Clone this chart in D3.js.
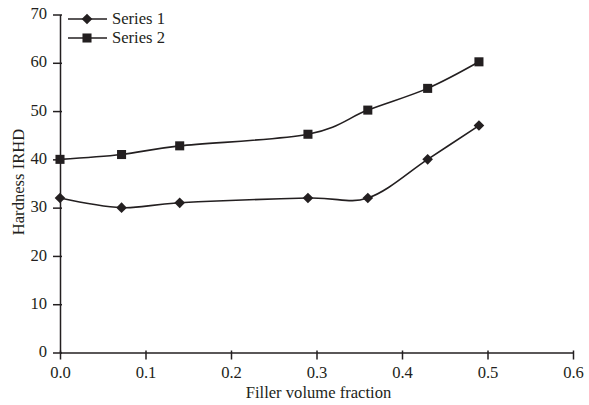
<!DOCTYPE html>
<html>
<head>
<meta charset="utf-8">
<script src="https://cdn.jsdelivr.net/npm/d3@7"></script>
<style>
  body { margin: 0; background: #fff; }
  text { font-family: "Liberation Serif", "Times New Roman", serif; fill: #231f20; }
</style>
</head>
<body>
<div id="chart"></div>
<script>
// data
const xValues = [0, 0.072, 0.14, 0.29, 0.36, 0.43, 0.49];
const series1 = [32, 30, 31, 32, 32, 40, 47];
const series2 = [40, 41, 42.8, 45.2, 50.2, 54.7, 60.2];
const seriesNames = ["Series 1", "Series 2"];
const xTicks = [0, 0.1, 0.2, 0.3, 0.4, 0.5, 0.6];
const yTicks = [0, 10, 20, 30, 40, 50, 60, 70];

const width = 589, height = 405;
const ink = "#231f20";
const fontSize = 16.6;

const svg = d3.select("#chart").append("svg")
  .attr("width", width)
  .attr("height", height);

const x = d3.scaleLinear().domain([0, 0.6]).range([60, 573]);
const y = d3.scaleLinear().domain([0, 70]).range([352.5, 14.5]);

// axes (ticks cross the axis line a bit, like the original)
const xAxis = svg.append("g").attr("transform", `translate(0,${y(0)})`)
  .call(d3.axisBottom(x).tickValues(xTicks).tickFormat(d3.format(".1f")).tickSize(7).tickSizeOuter(0).tickPadding(7));
const yAxis = svg.append("g").attr("transform", `translate(${x(0)},0)`)
  .call(d3.axisLeft(y).tickValues(yTicks).tickSize(7).tickSizeOuter(0).tickPadding(6));

[xAxis, yAxis].forEach(g => {
  g.select(".domain").attr("stroke", ink).attr("stroke-width", 1.5);
  g.selectAll(".tick line").attr("stroke", ink).attr("stroke-width", 1.5);
  g.selectAll(".tick text").attr("font-size", fontSize).attr("font-family", null).style("fill", ink);
});
xAxis.selectAll(".tick line").attr("y1", -2);
yAxis.selectAll(".tick line").attr("x1", 2);
yAxis.selectAll(".tick text").attr("dy", "0.25em");

svg.append("text")
  .attr("x", (x(0) + x(0.6)) / 2 + 2)
  .attr("y", 398)
  .attr("text-anchor", "middle")
  .attr("font-size", fontSize)
  .text("Filler volume fraction");

svg.append("text")
  .attr("transform", "translate(24,182) rotate(-90)")
  .attr("text-anchor", "middle")
  .attr("font-size", fontSize)
  .text("Hardness IRHD");

// lines
const line = d3.line()
  .x(d => x(d[0]))
  .y(d => y(d[1]))
  .curve(d3.curveCardinal.tension(0));

const diamond = d3.symbol().type(d3.symbolDiamond2).size(72);
const square = d3.symbol().type(d3.symbolSquare).size(82);
const shapes = [diamond, square];

[series1, series2].forEach((vals, i) => {
  const pts = xValues.map((v, j) => [v, vals[j]]);
  svg.append("path")
    .datum(pts)
    .attr("d", line)
    .attr("fill", "none")
    .attr("stroke", ink)
    .attr("stroke-width", 1.6);
  svg.selectAll(null)
    .data(pts)
    .enter()
    .append("path")
    .attr("d", shapes[i])
    .attr("transform", d => `translate(${x(d[0])},${y(d[1])})`)
    .attr("fill", ink);
});

// legend
const legend = svg.append("g");
seriesNames.forEach((name, i) => {
  const ly = 19 + i * 19;
  legend.append("line")
    .attr("x1", 68).attr("x2", 107)
    .attr("y1", ly).attr("y2", ly)
    .attr("stroke", ink).attr("stroke-width", 1.6);
  legend.append("path")
    .attr("d", shapes[i])
    .attr("transform", `translate(87,${ly})`)
    .attr("fill", ink);
  legend.append("text")
    .attr("x", 112).attr("y", ly + 5)
    .attr("font-size", fontSize)
    .text(name);
});
</script>
</body>
</html>
